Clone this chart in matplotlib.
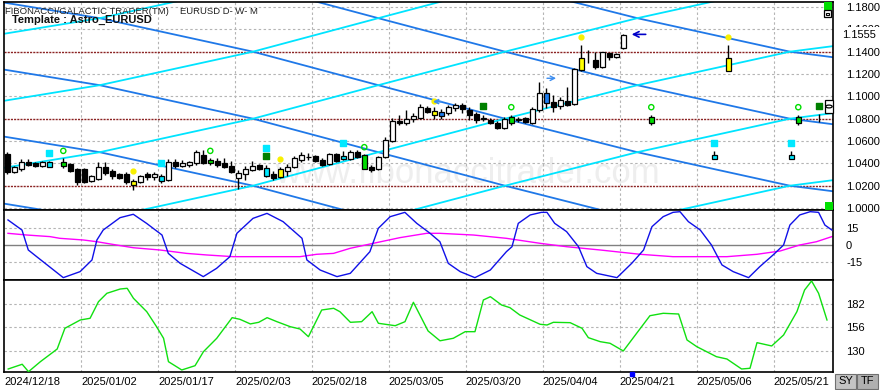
import matplotlib.pyplot as plt
from matplotlib.patches import Rectangle, Circle

plt.rcParams['font.family'] = ['Liberation Sans', 'DejaVu Sans']

W, H = 881, 390

# ---------------- data ----------------
# daily EURUSD bars (bar index on the x axis), fill: w=up, k=down, c/g/y/b=signal colours, n=no body
bar_idx = [0, 1, 2, 3, 4, 5, 6, 8, 9, 10, 11, 12, 13, 14, 15, 16, 17, 18, 19, 20,
           21, 22, 23, 24, 25, 26, 27, 28, 29, 30, 31, 32, 33, 34, 35, 36, 37, 38, 39, 40,
           41, 42, 43, 44, 45, 46, 47, 48, 49, 50, 51, 52, 53, 54, 55, 56, 57, 58, 59, 60,
           61, 62, 63, 64, 65, 66, 67, 68, 69, 70, 71, 72, 73, 74, 75, 76, 77, 78, 79, 80,
           81, 82, 83, 84, 85, 86, 87, 88, 92, 101, 103, 112, 113, 116]
opens = [1.0484, 1.0323, 1.0348, 1.0410, 1.0401, 1.0377, 1.0371, 1.0380, 1.0392, 1.0350,
         1.0350, 1.0246, 1.0264, 1.0371, 1.0330, 1.0308, 1.0303, 1.0246, 1.0231, 1.0303,
         1.0282, 1.0243, 1.0252, 1.0410, 1.0380, 1.0386, 1.0404, 1.0476, 1.0404, 1.0419,
         1.0407, 1.0377, 1.0267, 1.0303, 1.0341, 1.0383, 1.0362, 1.0306, 1.0276, 1.0335,
         1.0368, 1.0434, 1.0458, 1.0467, 1.0431, 1.0395, 1.0482, 1.0437, 1.0437, 1.0505,
         1.0476, 1.0371, 1.0348, 1.0461, 1.0601, 1.0783, 1.0765, 1.0795, 1.0810, 1.0894,
         1.0834, 1.0863, 1.0849, 1.0894, 1.0923, 1.0878, 1.0845, 1.0807, 1.0789, 1.0765,
         1.0715, 1.0765, 1.0786, 1.0804, 1.0765, 1.0878, 1.1031, 1.0953, 1.0914, 1.0959,
         1.0932, 1.1237, 1.1356, 1.1326, 1.1263, 1.1386, 1.1350, 1.1431, 1.0759, 1.0437,
         1.1230, 1.0437, 1.0765, 1.0795]
highs = [1.0502, 1.0377, 1.0437, 1.0437, 1.0410, 1.0425, 1.0419, 1.0446, 1.0407, 1.0362,
         1.0362, 1.0297, 1.0416, 1.0416, 1.0353, 1.0317, 1.0326, 1.0258, 1.0297, 1.0326,
         1.0323, 1.0306, 1.0437, 1.0437, 1.0431, 1.0425, 1.0520, 1.0520, 1.0446, 1.0446,
         1.0446, 1.0425, 1.0341, 1.0377, 1.0422, 1.0395, 1.0383, 1.0330, 1.0371, 1.0395,
         1.0467, 1.0502, 1.0496, 1.0476, 1.0449, 1.0496, 1.0493, 1.0509, 1.0520, 1.0520,
         1.0482, 1.0386, 1.0470, 1.0640, 1.0807, 1.0834, 1.0878, 1.0854, 1.0932, 1.0917,
         1.0908, 1.0890, 1.0923, 1.0944, 1.0944, 1.0903, 1.0863, 1.0834, 1.0804, 1.0780,
         1.0819, 1.0836, 1.0819, 1.0819, 1.0908, 1.1125, 1.1073, 1.1013, 1.0998, 1.1087,
         1.1254, 1.1460, 1.1415, 1.1398, 1.1400, 1.1391, 1.1386, 1.1556, 1.0834, 1.0512,
         1.1460, 1.0512, 1.0834, 1.0840]
lows = [1.0308, 1.0317, 1.0335, 1.0377, 1.0371, 1.0371, 1.0366, 1.0362, 1.0323, 1.0207,
        1.0222, 1.0237, 1.0252, 1.0297, 1.0264, 1.0264, 1.0213, 1.0162, 1.0222, 1.0252,
        1.0252, 1.0228, 1.0246, 1.0357, 1.0371, 1.0371, 1.0386, 1.0395, 1.0386, 1.0366,
        1.0357, 1.0317, 1.0169, 1.0252, 1.0335, 1.0341, 1.0276, 1.0252, 1.0270, 1.0288,
        1.0359, 1.0416, 1.0431, 1.0413, 1.0377, 1.0386, 1.0413, 1.0428, 1.0428, 1.0452,
        1.0348, 1.0326, 1.0341, 1.0446, 1.0592, 1.0742, 1.0744, 1.0774, 1.0795, 1.0849,
        1.0801, 1.0801, 1.0834, 1.0870, 1.0849, 1.0789, 1.0765, 1.0783, 1.0753, 1.0708,
        1.0708, 1.0742, 1.0771, 1.0759, 1.0753, 1.0863, 1.0896, 1.0863, 1.0885, 1.0914,
        1.0926, 1.1230, 1.1296, 1.1248, 1.1257, 1.1326, 1.1344, 1.1427, 1.0744, 1.0437,
        1.1230, 1.0437, 1.0744, 1.0774]
closes = [1.0326, 1.0366, 1.0416, 1.0386, 1.0377, 1.0413, 1.0410, 1.0416, 1.0332, 1.0231,
          1.0237, 1.0290, 1.0371, 1.0312, 1.0288, 1.0273, 1.0237, 1.0207, 1.0285, 1.0282,
          1.0306, 1.0288, 1.0416, 1.0380, 1.0401, 1.0410, 1.0502, 1.0407, 1.0428, 1.0386,
          1.0366, 1.0326, 1.0312, 1.0350, 1.0377, 1.0353, 1.0288, 1.0270, 1.0348, 1.0371,
          1.0446, 1.0473, 1.0461, 1.0419, 1.0389, 1.0484, 1.0425, 1.0467, 1.0505, 1.0461,
          1.0353, 1.0341, 1.0461, 1.0610, 1.0783, 1.0759, 1.0798, 1.0825, 1.0903, 1.0858,
          1.0872, 1.0827, 1.0908, 1.0926, 1.0885, 1.0834, 1.0789, 1.0801, 1.0765, 1.0715,
          1.0795, 1.0813, 1.0801, 1.0771, 1.0885, 1.1028, 1.0938, 1.0903, 1.0968, 1.0923,
          1.1243, 1.1347, 1.1356, 1.1263, 1.1395, 1.1350, 1.1380, 1.1550, 1.0819, 1.0476,
          1.1341, 1.0476, 1.0813, 1.0795]
fills = list('kwwkkwc' 'gkkkwwkkkkywkwcwkwwwkgkkkwwwkckywwwwkkwkcwkgkwww'
             'kwwwkybwwkkkwkkwgwkwwbkwkwynkwkww' 'gcycgn')

# signal markers
cyan_sq_x = [6, 22, 37, 48, 101, 112]
cyan_sq_y = [1.0491, 1.0400, 1.0541, 1.0586, 1.0583, 1.0583]
dkgreen_sq_x = [37, 68, 116]
dkgreen_sq_y = [1.0470, 1.0917, 1.0915]
circle_x = [8, 29, 51, 72, 92, 113]
circle_y = [1.0512, 1.0512, 1.0545, 1.0903, 1.0903, 1.0903]
star_x = [18, 39, 61, 82, 103]
star_y = [1.0332, 1.0440, 1.0959, 1.1534, 1.1534]

# astro lines: values at the crossing nodes
node_x = [-0.5, 13.2, 35.1, 53.0, 71.1, 90.0, 111.8, 118.0]
blue_lines = [
    [1.304, 1.29, 1.26, 1.23, 1.20, 1.17, 1.14, 1.135],
    [1.244, 1.23, 1.20, 1.17, 1.14, 1.11, 1.08, 1.075],
    [1.184, 1.17, 1.14, 1.11, 1.08, 1.05, 1.02, 1.015],
    [1.124, 1.11, 1.08, 1.05, 1.02, 0.99, 0.96, 0.955],
    [1.064, 1.05, 1.02, 0.99, 0.96, 0.93, 0.90, 0.895],
    [1.004, 0.99, 0.96, 0.93, 0.90, 0.87, 0.84, 0.835],
]
cyan_lines = [
    [1.156, 1.17, 1.20, 1.23, 1.26, 1.29, 1.32, 1.325],
    [1.096, 1.11, 1.14, 1.17, 1.20, 1.23, 1.26, 1.265],
    [1.036, 1.05, 1.08, 1.11, 1.14, 1.17, 1.20, 1.205],
    [0.976, 0.99, 1.02, 1.05, 1.08, 1.11, 1.14, 1.145],
    [0.916, 0.93, 0.96, 0.99, 1.02, 1.05, 1.08, 1.085],
    [0.856, 0.87, 0.90, 0.93, 0.96, 0.99, 1.02, 1.025],
]
grid_levels = [1.18, 1.16, 1.12, 1.10, 1.06, 1.04, 1.00]
red_levels = [1.14, 1.08, 1.02]
price_ticks = [1.18, 1.16, 1.14, 1.12, 1.10, 1.08, 1.06, 1.04, 1.02, 1.00]
last_price = 1.1555

# cycle oscillator (middle panel)
osc_x = [0.1, 2.1, 3.0, 4.2, 8.0, 10.4, 12.1, 12.8, 13.7, 16.1, 18.0, 19.9, 22.1, 23.0, 24.7,
         28.0, 29.9, 31.8, 32.8, 35.1, 37.1, 39.4, 42.1, 42.8, 44.7, 47.1, 49.0, 51.8, 53.0,
         54.7, 56.8, 58.5, 60.4, 61.8, 63.0, 64.7, 66.8, 69.0, 71.3, 72.1, 73.0, 74.7, 76.3,
         77.1, 78.2, 79.9, 81.6, 82.8, 84.2, 87.1, 89.2, 90.9, 92.1, 93.7, 95.1, 96.1, 97.3,
         99.0, 100.6, 102.1, 103.7, 105.9, 107.5, 109.4, 110.9, 111.8, 113.2, 114.7, 115.9,
         116.8, 117.8]
osc_v = [22.1, 13.2, -4.4, -10.3, -28.8, -23.5, -13.2, 4.4, 13.2, 24.1, 27.1, 19.1, 8.8, -7.4,
         -16.2, -27.9, -20.6, -10.3, 10.3, 23.5, 27.9, 20.6, 5.9, -13.2, -22.1, -27.9, -25.0,
         -5.9, 14.7, 25.0, 28.8, 19.1, 10.3, 2.9, -16.2, -23.5, -28.8, -22.1, -5.9, -1.5, 19.1,
         26.5, 28.8, 28.8, 19.1, 11.8, -1.5, -19.1, -25.0, -28.8, -16.2, -4.4, 16.2, 25.0, 28.8,
         29.4, 20.6, 13.2, 0.0, -17.6, -23.5, -28.8, -19.1, -8.8, 0.0, 17.6, 26.5, 29.4, 28.8,
         17.6, 13.2]
slow_x = [0.1, 2.8, 6.1, 7.5, 10.9, 12.8, 15.6, 18.0, 21.8, 25.6, 28.5, 32.3, 41.8, 44.2, 46.6,
          49.0, 52.3, 56.1, 59.9, 61.8, 66.6, 71.3, 76.1, 79.9, 84.7, 90.4, 95.1, 102.8, 107.1,
          110.4, 113.2, 115.6, 117.8]
slow_v = [10.3, 8.8, 7.4, 5.9, 4.4, 2.9, 0.0, -2.4, -4.4, -7.4, -8.8, -10.3, -10.3, -8.2, -7.4,
          -2.9, 1.5, 6.5, 10.3, 10.3, 8.8, 5.9, 1.5, -1.5, -4.4, -8.2, -10.3, -10.3, -8.2, -5.3,
          0.0, 2.9, 7.4]

# bottom panel indicator
ind_x = [0.1, 2.1, 3.0, 4.7, 6.6, 7.1, 8.2, 10.4, 11.8, 13.0, 14.2, 16.1, 17.1, 18.0, 19.9, 21.3,
         22.3, 23.0, 24.9, 26.8, 28.0, 29.9, 32.1, 33.2, 34.7, 35.9, 37.1, 38.5, 40.4, 41.8,
         43.0, 44.9, 46.6, 47.5, 49.0, 50.6, 52.1, 53.0, 55.4, 56.8, 58.0, 60.1, 61.8, 63.7,
         65.4, 66.8, 68.0, 69.0, 70.6, 71.8, 73.2, 76.1, 77.1, 78.0, 80.4, 82.1, 83.0, 84.7,
         86.1, 88.0, 89.9, 91.8, 93.7, 95.9, 97.1, 98.5, 101.3, 102.8, 104.9, 106.1, 107.1,
         109.2, 110.9, 112.8, 113.9, 114.9, 115.9, 117.1]
ind_v = [109.5, 114.8, 106.5, 117.7, 128.9, 131.9, 155.1, 164.4, 166.3, 184.9, 194.3, 199.1,
         199.9, 188.7, 173.7, 156.9, 143.9, 117.7, 108.4, 113.2, 128.9, 143.9, 167.0, 165.2,
         160.0, 161.8, 167.0, 162.5, 156.9, 154.3, 145.7, 175.6, 177.5, 173.7, 161.8, 162.5,
         173.7, 160.7, 158.0, 162.5, 184.2, 152.1, 141.1, 143.9, 151.3, 151.3, 186.8, 190.5,
         181.2, 178.2, 170.0, 159.6, 158.8, 161.8, 161.4, 155.1, 144.6, 140.1, 138.3, 129.7,
         149.5, 169.2, 171.9, 171.1, 142.0, 134.5, 123.3, 120.7, 109.5, 110.3, 139.0, 135.3,
         147.6, 173.7, 198.0, 208.1, 194.3, 164.4]

date_pos = [-0.5, 10.5, 21.5, 32.5, 43.5, 54.5, 65.5, 76.5, 87.5, 98.5, 109.5]
date_labels = ['2024/12/18', '2025/01/02', '2025/01/17', '2025/02/03', '2025/02/18',
               '2025/03/05', '2025/03/20', '2025/04/04', '2025/04/21', '2025/05/06',
               '2025/05/21']

# ---------------- figure ----------------
fig = plt.figure(figsize=(W / 100, H / 100), dpi=100)


def frac(x0, y0, x1, y1):
    return [x0 / W, 1 - y1 / H, (x1 - x0) / W, (y1 - y0) / H]


ax = fig.add_axes(frac(4, 2, 833, 210))
ax2 = fig.add_axes(frac(4, 210, 833, 280))
ax3 = fig.add_axes(frac(4, 280, 833, 372))

grid_style = dict(color='#b4b4b4', lw=0.8, ls=(0, (2.2, 2.2)), zorder=1)
for a in (ax, ax2, ax3):
    a.set_xlim(-0.47, 117.96)
    for gx in date_pos[1:]:
        a.axvline(gx, **grid_style)
    for s in a.spines.values():
        s.set_color('black')
        s.set_linewidth(1.2)
    a.yaxis.tick_right()
    a.tick_params(axis='y', length=0, pad=9.4, labelsize=8, colors='black')

# main panel
ax.set_ylim(0.99826, 1.18448)
ax.set_xticks([])
for lv in grid_levels:
    ax.axhline(lv, **grid_style)
for lv in red_levels:
    ax.axhline(lv, color='#8b2323', lw=1, ls=(0, (1.5, 0.8)), zorder=1.2)
ax.set_yticks(price_ticks)
ax.set_yticklabels([f'{v:.4f}' for v in price_ticks])

# watermark
ax.text(93.2, 1.0305, 'www.fibonaccitrader.com', fontsize=25, color='#eeeeee',
        ha='right', va='center', zorder=0.5)

for vals in blue_lines:
    ax.plot(node_x, vals, color='#1f78e8', lw=1.3, zorder=2)
for vals in cyan_lines:
    ax.plot(node_x, vals, color='#00e4ff', lw=1.3, zorder=2)

fill_colors = {'w': 'white', 'k': 'black', 'c': '#00e8ff', 'g': '#00dd00',
               'y': '#ffff00', 'b': '#1e7ef0'}
ax.vlines(bar_idx, lows, highs, color='black', lw=1, zorder=3)
for x, o, c, f in zip(bar_idx, opens, closes, fills):
    if f == 'n':
        continue
    lo, hi = min(o, c), max(o, c)
    ax.bar(x, max(hi - lo, 0.0002), bottom=lo, width=0.68, color=fill_colors[f],
           edgecolor='black', linewidth=0.9, zorder=4)

ax.scatter(cyan_sq_x, cyan_sq_y, marker='s', s=22, color='#00e8ff', zorder=5)
ax.scatter(dkgreen_sq_x, dkgreen_sq_y, marker='s', s=24, color='#008000', zorder=5)
ax.scatter(circle_x, circle_y, marker='o', s=14, facecolors='none',
           edgecolors='#00dd00', linewidths=1, zorder=5)
ax.scatter(star_x, star_y, marker='o', s=12, color='#f8f000', zorder=6)

ax.annotate('', xy=(60.4, 1.0953), xytext=(62.4, 1.0953),
            arrowprops=dict(arrowstyle='->', color='#3d8ef0', lw=1.2, mutation_scale=7), zorder=6)
ax.annotate('', xy=(78.8, 1.1162), xytext=(76.7, 1.1162),
            arrowprops=dict(arrowstyle='->', color='#3d8ef0', lw=1.0, mutation_scale=8), zorder=6)
ax.annotate('', xy=(88.8, last_price), xytext=(91.6, last_price),
            arrowprops=dict(arrowstyle='->', color='#0000c8', lw=1.2, mutation_scale=10), zorder=6)

# middle panel
ax2.set_ylim(-30.88, 30.88)
ax2.set_xticks([])
for lv in (15, -15):
    ax2.axhline(lv, **grid_style)
ax2.axhline(0, color='#808080', lw=1, zorder=1.5)
ax2.plot(slow_x, slow_v, color='#ff00ff', lw=1, zorder=2)
ax2.plot(osc_x, osc_v, color='#1010e8', lw=1, zorder=3)
ax2.set_yticks([15, 0, -15])
ax2.set_yticklabels(['15', '0', '-15'])

# bottom panel
ax3.set_ylim(106.13, 209.2)
for lv in (182, 156, 130):
    ax3.axhline(lv, **grid_style)
ax3.plot(ind_x, ind_v, color='#10e010', lw=1, zorder=3)
ax3.set_yticks([182, 156, 130])
ax3.set_yticklabels(['182', '156', '130'])
ax3.set_xticks(date_pos)
ax3.set_xticklabels(date_labels, ha='left')
ax3.tick_params(axis='x', length=0, pad=3.5, labelsize=8)
ax3.plot([89.2], [103.9], marker='s', ms=3.5, color='#0000ff', clip_on=False, zorder=6)

# titles
fig.text(5 / W, 1 - 11 / H, 'FIBONACCI/GALACTIC TRADER(TM)', fontsize=6.8, va='center',
         color='#202020')
fig.text(180 / W, 1 - 11 / H, 'EURUSD D- W- M', fontsize=6.8, va='center', color='#202020')
fig.text(12 / W, 1 - 19.5 / H, 'Template : Astro_EURUSD', fontsize=8, weight='bold',
         va='center', color='#101010')


def add_box(x0, y0, x1, y1, **kw):
    fig.add_artist(Rectangle((x0 / W, 1 - y1 / H), (x1 - x0) / W, (y1 - y0) / H,
                             transform=fig.transFigure, **kw))


# last price label over the axis
add_box(838, 27, 881, 43, facecolor='white', edgecolor='none', zorder=2)
fig.text(842.5 / W, 1 - 34.5 / H, f'{last_price:.4f}', fontsize=8, va='center', zorder=3)

# right edge indicators
add_box(824, 2, 832, 9.5, facecolor='#00e000', edgecolor='none', zorder=2)
add_box(824, 10.5, 831, 17, facecolor='white', edgecolor='black', lw=0.9, zorder=2)
add_box(826.3, 12.6, 828.7, 15, facecolor='white', edgecolor='black', lw=0.8, zorder=3)
add_box(825, 100, 833, 113, facecolor='white', edgecolor='black', lw=0.9, zorder=2)
fig.add_artist(Circle((829 / W, 1 - 106.5 / H), 3.2 / W, transform=fig.transFigure,
                      facecolor='white', edgecolor='black', lw=0.9, zorder=3))
add_box(825, 201.5, 833, 210, facecolor='#00e000', edgecolor='none', zorder=2)

# SY / TF buttons
add_box(835, 374, 856, 389, facecolor='#c4c4c4', edgecolor='#707070', lw=0.8, zorder=2)
add_box(857, 374, 878, 389, facecolor='#b0b0b0', edgecolor='#707070', lw=0.8, zorder=2)
fig.text(845.5 / W, 1 - 381.5 / H, 'SY', fontsize=8, ha='center', va='center', zorder=3)
fig.text(867.5 / W, 1 - 381.5 / H, 'TF', fontsize=8, ha='center', va='center', zorder=3)

fig.savefig('out.png', dpi=100, facecolor='white')
